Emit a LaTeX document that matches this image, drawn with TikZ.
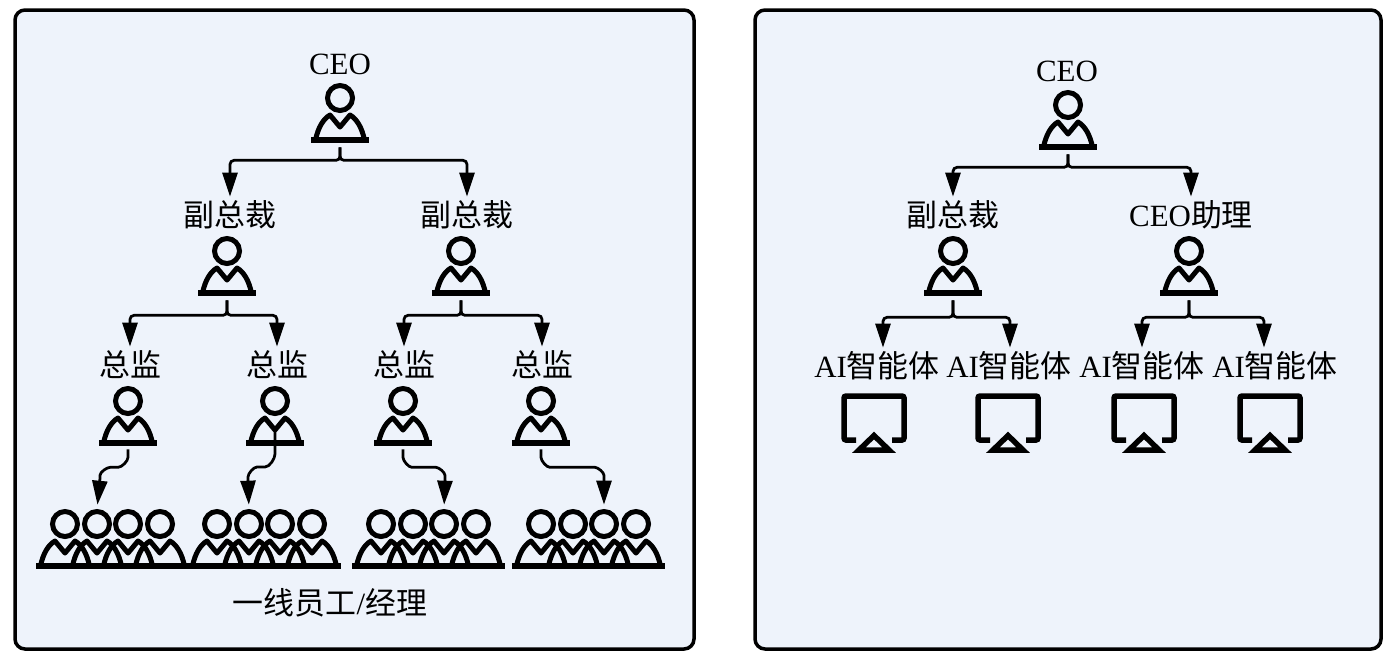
\documentclass[tikz,border=0pt]{standalone}
\usepackage{fontspec}
\setmainfont{Liberation Serif}
\newfontfamily\cjk{Noto Sans CJK SC}
\usetikzlibrary{arrows.meta,bending}

\definecolor{panelbg}{HTML}{EEF3FB}

\tikzset{
    panel/.style={draw=black, fill=panelbg, line width=0.07cm, rounded corners=0.2cm},
    lbl/.style={inner sep=0pt, text height=0.48cm, text depth=0.08cm, font=\fontsize{17.6}{20}\selectfont},
    iconbox/.style={inner sep=0pt, minimum width=1.16cm, minimum height=1.16cm},
    screenbox/.style={inner sep=0pt, minimum width=1.3cm, minimum height=1.2cm},
    link/.style={draw=black, line width=0.055cm, rounded corners=0.08cm, shorten <=0.1cm, shorten >=0.1cm,
        -{Triangle[length=0.48cm, width=0.3cm, flex=0]}},
    person/.pic={
        \draw[line width=0.1cm] (0,-15) circle (12.5);
        \draw[line width=0.1cm, line join=round] (-24.5,27) .. controls (-22,15) and (-17,6) .. (-10,2)
            -- (0,14) -- (10,2) .. controls (17,6) and (22,15) .. (24.5,27);
        \draw[line width=0.11cm] (-29,27) -- (29,27);
    },
    monitor/.pic={
        \draw[line width=0.11cm, rounded corners=0.04cm] (-18,20) -- (-30,20) -- (-30,-24) -- (30,-24) -- (30,20) -- (18,20);
        \draw[line width=0.11cm, miter limit=4] (-15,30) -- (15,30) -- (0,15.5) -- cycle;
    },
}

\begin{document}
\begin{tikzpicture}[x=0.02cm, y=-0.02cm]
    \useasboundingbox (0,0) rectangle (1398,660);

    % Panels
    \draw[panel] (15,10) rectangle (694,649);
    \draw[panel] (755,10) rectangle (1381,649);

    % Left tree
    \node[lbl] (lceo) at (340,64) {CEO};
    \node[lbl] (lvpa) at (230,216) {\cjk 副总裁};
    \node[lbl] (lvpb) at (467,216) {\cjk 副总裁};
    \node[lbl] (ldira) at (130,366) {\cjk 总监};
    \node[lbl] (ldirb) at (277,366) {\cjk 总监};
    \node[lbl] (ldirc) at (404,366) {\cjk 总监};
    \node[lbl] (ldird) at (542,366) {\cjk 总监};
    \foreach \i/\x/\y in {ceo/340/113, vpa/227/266, vpb/461/266, dira/128/416, dirb/275/416, dirc/403/416, dird/541/416} {
        \node[iconbox] (\i) at (\x,\y) {};
        \pic at (\i) {person};
    }

    % Four staff groups
    \foreach \g/\x in {a/112, b/264, c/428, d/588} {
        \foreach \n/\dx in {1/-47, 2/-15, 3/16, 4/48} {
            \node[iconbox] (\g\n) at (\x+\dx,539) {};
            \pic at (\g\n) {person};
        }
    }
    \node[lbl] (lstaff) at (330,604) {{\cjk 一线员工}/{\cjk 经理}};

    % Left connectors
    \foreach \from/\to/\drop in {ceo/lvpa/18, ceo/lvpb/18, vpa/ldira/20, vpa/ldirb/20, vpb/ldirc/20, vpb/ldird/20} {
        \draw[link] (\from.south) -- ++(0,\drop) -| (\to.north);
    }
    \draw[link] (dira.south) -- ++(0,8) to[out=-90, in=0] ++(-14,14) to[out=180, in=90] ++(-14,12) -- (a2.north);
    \draw[link, shorten <=0.3cm] (dirb.center) -- ++(0,34) to[out=-90, in=0] ++(-14,17) to[out=180, in=90] ++(-13,14) -- (b2.north);
    \draw[link] (dirc.south) -- ++(0,8) to[out=-90, in=180] ++(13,14) -- ++(16,0) to[out=0, in=90] ++(13,12) -- (c3.north);
    \draw[link] (dird.south) -- ++(0,8) to[out=-90, in=180] ++(13,14) -- ++(37,0) to[out=0, in=90] ++(13,12) -- (d3.north);

    % Right tree
    \node[lbl] (rlceo) at (1067,71) {CEO};
    \node[lbl] (rlvp) at (953,216) {\cjk 副总裁};
    \node[lbl] (rlasst) at (1191,216) {CEO{\cjk 助理}};
    \foreach \i/\x/\y in {rceo/1068/120, rvp/953/266, rasst/1189/266} {
        \node[iconbox] (\i) at (\x,\y) {};
        \pic at (\i) {person};
    }
    \foreach \n/\x/\s in {a/877/874, b/1009/1008, c/1142/1144, d/1275/1270} {
        \node[lbl] (lai\n) at (\x,367) {AI{\cjk 智能体}};
        \node[screenbox] (ai\n) at (\s,420) {};
        \pic at (ai\n) {monitor};
    }

    % Right connectors
    \foreach \from/\to/\drop in {rceo/rlvp/18, rceo/rlasst/18} {
        \draw[link] (\from.south) -- ++(0,\drop) -| (\to.north);
    }
    \foreach \from/\to/\dx in {rvp/aia/6, rvp/aib/1, rasst/aic/0, rasst/aid/-11} {
        \draw[link] (\from.south) -- ++(0,22) -| ([shift={(\dx,0)}]l\to.north);
    }
\end{tikzpicture}
\end{document}
